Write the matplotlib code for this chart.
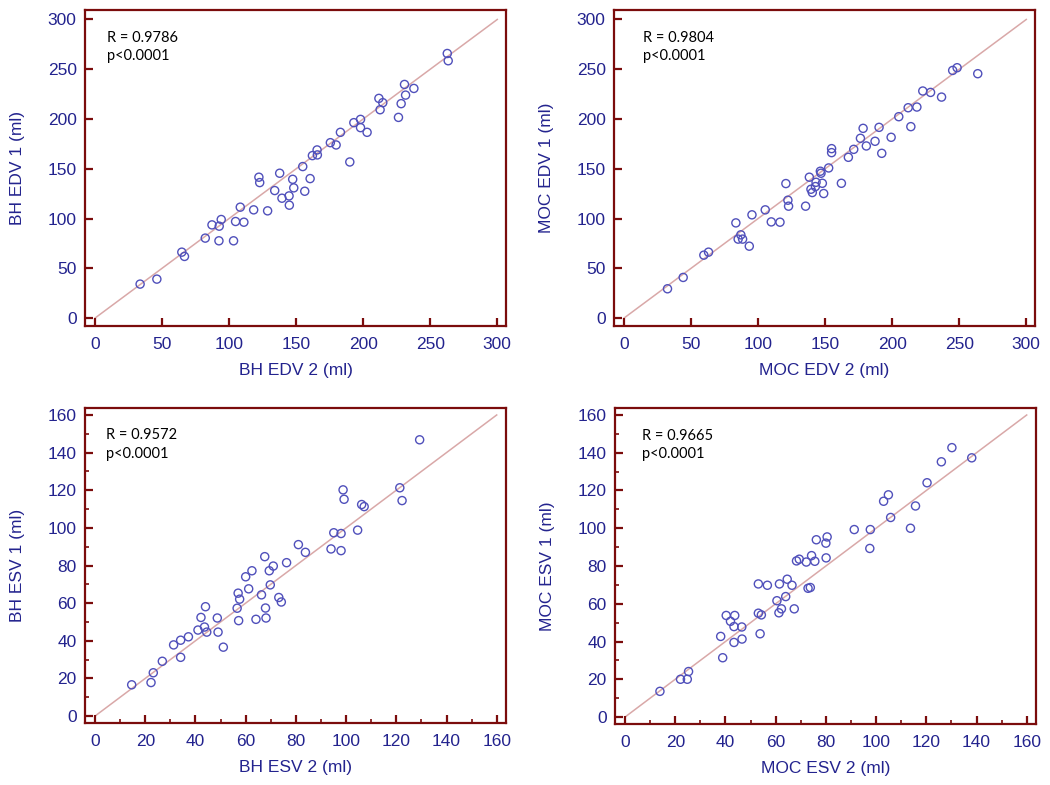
import matplotlib
matplotlib.use('Agg')
import matplotlib.pyplot as plt
import numpy as np

# BH EDV: x = run 2, y = run 1
bh_edv_2 = [33.6, 46.1, 64.7, 66.7, 82.2, 87.2, 92.6, 94.1, 92.4, 103.3, 104.8, 111.0,
            108.3, 118.3, 128.7, 122.2, 122.8, 134.0, 137.7, 139.4, 144.7, 144.9, 147.4, 148.2,
            156.4, 154.9, 160.4, 162.1, 165.6, 165.8, 175.5, 179.8, 183.0, 190.0, 193.0, 198.0,
            198.0, 202.9, 211.7, 214.6, 212.6, 226.3, 228.3, 231.6, 230.8, 237.8, 262.7, 263.4]
bh_edv_1 = [34.1, 39.1, 66.2, 61.9, 80.3, 93.6, 92.3, 99.0, 77.6, 77.6, 97.0, 96.3,
            111.4, 108.7, 107.7, 141.5, 136.1, 128.1, 145.5, 120.4, 122.7, 113.4, 139.4, 130.8,
            127.4, 152.2, 140.1, 163.2, 168.9, 163.9, 176.2, 173.9, 186.6, 156.8, 196.3, 199.6,
            191.3, 186.6, 220.7, 216.4, 209.3, 201.6, 215.4, 224.0, 234.7, 230.7, 265.8, 258.5]

# MOC EDV
moc_edv_2 = [32.4, 44.1, 59.5, 63.0, 83.4, 87.1, 85.1, 88.4, 93.4, 95.4, 105.3, 109.8,
             116.3, 120.7, 122.2, 122.7, 135.4, 138.2, 139.4, 140.4, 142.7, 143.2, 146.4, 146.9,
             147.9, 148.9, 152.6, 154.8, 154.8, 162.1, 167.3, 171.3, 176.3, 178.3, 180.7, 187.2,
             190.2, 192.2, 199.2, 204.9, 211.9, 213.9, 218.4, 222.8, 228.6, 236.8, 245.1, 248.4, 263.8]
moc_edv_1 = [29.4, 40.8, 63.2, 66.2, 95.6, 83.6, 79.3, 79.3, 72.2, 103.7, 108.7, 96.6,
             96.3, 135.1, 118.4, 112.4, 112.4, 141.5, 129.4, 126.1, 132.1, 136.4, 147.5, 145.5,
             135.4, 125.1, 150.8, 170.2, 166.2, 135.4, 161.5, 169.5, 180.6, 190.6, 172.9, 177.6,
             191.6, 165.5, 181.6, 202.3, 211.3, 192.3, 212.0, 228.1, 226.7, 222.0, 248.8, 251.5, 245.5]

# BH ESV
bh_esv_2 = [14.6, 22.3, 23.2, 26.8, 31.3, 34.1, 37.2, 34.1, 41.0, 42.2, 43.6, 44.5,
            44.0, 48.7, 49.0, 51.1, 56.6, 57.0, 57.6, 57.2, 60.0, 61.2, 62.5, 64.1,
            66.3, 67.6, 67.9, 68.1, 69.4, 69.8, 71.0, 73.2, 74.2, 76.3, 81.0, 83.8,
            94.0, 95.1, 98.0, 98.0, 98.8, 99.2, 104.6, 106.2, 107.2, 121.4, 122.3, 129.3]
bh_esv_1 = [16.6, 17.8, 23.0, 29.1, 37.8, 40.3, 42.1, 31.2, 45.7, 52.4, 47.3, 44.6,
            58.1, 52.1, 44.6, 36.6, 57.3, 65.3, 62.1, 50.7, 74.0, 67.6, 77.2, 51.4,
            64.4, 84.7, 57.4, 52.1, 77.2, 69.7, 79.7, 63.0, 60.6, 81.5, 91.1, 87.0,
            88.8, 97.4, 97.0, 87.9, 120.2, 115.2, 98.8, 112.4, 111.3, 121.3, 114.5, 146.8]

# MOC ESV
moc_esv_2 = [13.9, 22.1, 24.8, 25.3, 38.9, 38.1, 40.3, 42.0, 43.7, 43.4, 43.4, 46.5,
             46.6, 53.1, 54.3, 53.8, 53.1, 56.7, 60.5, 61.5, 62.3, 61.3, 64.0, 64.6,
             66.5, 67.4, 68.3, 69.4, 72.2, 72.9, 73.8, 74.3, 75.6, 76.2, 80.0, 80.5,
             80.1, 91.3, 97.7, 97.5, 103.0, 104.9, 105.8, 113.7, 115.7, 120.3, 126.0, 130.2, 138.1]
moc_esv_1 = [13.6, 20.0, 20.0, 24.1, 31.4, 42.7, 53.8, 50.7, 53.8, 47.9, 39.5, 47.7,
             41.3, 55.0, 54.1, 44.1, 70.5, 69.8, 61.6, 70.5, 57.3, 55.2, 63.8, 73.0,
             69.8, 57.3, 82.7, 83.6, 82.1, 68.2, 68.6, 85.5, 82.5, 93.9, 92.1, 95.4,
             84.3, 99.3, 99.3, 89.3, 114.3, 117.7, 105.7, 100.0, 111.8, 124.1, 135.2, 142.7, 137.3]

panels = [
    (bh_edv_2, bh_edv_1, 'BH EDV 2 (ml)', 'BH EDV 1 (ml)', 'R = 0.9786'),
    (moc_edv_2, moc_edv_1, 'MOC EDV 2 (ml)', 'MOC EDV 1 (ml)', 'R = 0.9804'),
    (bh_esv_2, bh_esv_1, 'BH ESV 2 (ml)', 'BH ESV 1 (ml)', 'R = 0.9572'),
    (moc_esv_2, moc_esv_1, 'MOC ESV 2 (ml)', 'MOC ESV 1 (ml)', 'R = 0.9665'),
]

W, H = 1050, 785
boxes = [(85, 10, 421, 316), (614, 10, 421, 316), (85, 408, 421, 315), (615, 408, 421, 316)]
text_x = [0.052, 0.068, 0.049, 0.064]

navy = '#23238e'
maroon = '#7b0c0c'
plt.rcParams['font.family'] = ['Liberation Sans', 'DejaVu Sans']

fig = plt.figure(figsize=(10.5, 7.85), dpi=100)

for i, (x, y, xl, yl, rtxt) in enumerate(panels):
    l, t, w, h = boxes[i]
    ax = fig.add_axes([l / W, 1 - (t + h) / H, w / W, h / H])
    if i < 2:
        top = 300
        ax.set_xlim(-7.5, 306.5)
        ax.set_ylim(-8, 309.5)
        ticks = np.arange(0, 301, 50)
    else:
        top = 160
        ax.set_xlim(-4, 163.7)
        ax.set_ylim(-3.7, 163.7)
        ticks = np.arange(0, 161, 20)
        ax.set_xticks(np.arange(0, 161, 10), minor=True)
        ax.set_yticks(np.arange(0, 161, 10), minor=True)
    ax.set_xticks(ticks)
    ax.set_yticks(ticks)
    ax.plot([0, top], [0, top], color='#d9a8a8', lw=1.1, zorder=1)
    ax.scatter(x, y, s=34, facecolors='none', edgecolors='#5050bb', linewidths=1.0, zorder=2)
    ax.text(text_x[i], 0.935, rtxt + '\np<0.0001', transform=ax.transAxes, ha='left', va='top',
            fontsize=10.5, family=['Lato', 'DejaVu Sans'], linespacing=1.4, color='black')
    for s in ax.spines.values():
        s.set_color(maroon)
        s.set_linewidth(1.6)
    ax.tick_params(which='major', direction='in', length=6, width=1.6, color=maroon,
                   labelcolor=navy, labelsize=12.5)
    ax.tick_params(axis='x', which='major', pad=8)
    ax.tick_params(axis='y', which='major', pad=6)
    ax.tick_params(which='minor', direction='in', length=3, width=1.2, color=maroon)
    ax.set_xlabel(xl, color=navy, fontsize=12.5, labelpad=8)
    ax.set_ylabel(yl, color=navy, fontsize=12.5, labelpad=16)

fig.savefig('out.png', dpi=100)
